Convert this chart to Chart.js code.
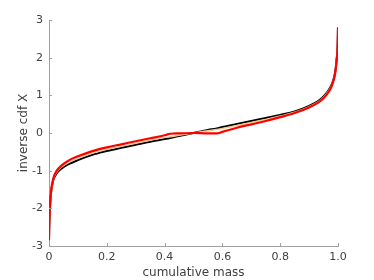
<!DOCTYPE html>
<html>
<head>
<meta charset="utf-8">
<script src="https://cdn.jsdelivr.net/npm/chart.js@4.4.1/dist/chart.umd.min.js"></script>
<style>
  html, body { margin: 0; padding: 0; background: #fff; }
  #wrap { width: 374px; height: 280px; position: relative; }
</style>
</head>
<body>
<div id="wrap"><canvas id="chartCdf"></canvas></div>
<script>
// Datos
const mass = [0, 0.001, 0.003, 0.007, 0.015, 0.027, 0.044, 0.07, 0.1, 0.15, 0.2, 0.25, 0.3, 0.35, 0.4, 0.42, 0.45, 0.5, 0.55, 0.58, 0.6, 0.65, 0.7, 0.75, 0.8, 0.85, 0.9, 0.93, 0.95, 0.97, 0.98, 0.99, 0.995, 0.999, 1];
const blackY = [-2.83, -2.4, -2.05, -1.6, -1.25, -1.07, -0.94, -0.82, -0.72, -0.58, -0.48, -0.39, -0.31, -0.23, -0.16, -0.13, -0.08, 0, 0.08, 0.12, 0.16, 0.24, 0.32, 0.4, 0.48, 0.57, 0.72, 0.84, 0.97, 1.17, 1.32, 1.6, 1.95, 2.4, 2.8];
const tanY = [-2.84, -2.4, -2.03, -1.58, -1.23, -1.04, -0.9, -0.77, -0.67, -0.53, -0.43, -0.35, -0.27, -0.19, -0.12, -0.1, -0.06, 0, 0.06, 0.09, 0.12, 0.2, 0.28, 0.36, 0.45, 0.55, 0.7, 0.82, 0.95, 1.15, 1.3, 1.59, 1.93, 2.38, 2.8];
const redY = [-2.85, -2.4, -2.0, -1.55, -1.2, -1.0, -0.86, -0.72, -0.62, -0.48, -0.38, -0.3, -0.22, -0.14, -0.06, -0.02, -0.01, 0, -0.01, -0.01, 0.03, 0.14, 0.23, 0.32, 0.42, 0.53, 0.68, 0.8, 0.92, 1.12, 1.28, 1.58, 1.9, 2.35, 2.8];
const xTicks = [0, 0.2, 0.4, 0.6, 0.8, 1];
const yTicks = [-3, -2, -1, 0, 1, 2, 3];

const pts = ys => mass.map((m, i) => ({ x: m, y: ys[i] }));
const axisColor = '#a0a0a0', textColor = '#404040';

// Marcas de eje hacia dentro (estilo MATLAB)
const inwardTicks = {
    id: 'inwardTicks',
    afterDraw(chart) {
        const { ctx, scales: { x, y } } = chart;
        ctx.save(); ctx.strokeStyle = axisColor; ctx.lineWidth = 1;
        x.ticks.forEach(t => { const px = Math.round(x.getPixelForValue(t.value)) + 0.5; ctx.beginPath(); ctx.moveTo(px, y.bottom); ctx.lineTo(px, y.bottom - 3); ctx.stroke(); });
        y.ticks.forEach(t => { const py = Math.round(y.getPixelForValue(t.value)) + 0.5; ctx.beginPath(); ctx.moveTo(x.left, py); ctx.lineTo(x.left + 3, py); ctx.stroke(); });
        ctx.restore();
    }
};

new Chart(document.getElementById('chartCdf'), {
    type: 'line',
    data: { datasets: [
        { data: pts(redY), borderColor: '#ff0000', borderWidth: 2.2 },
        { data: pts(tanY), borderColor: '#f3c98e', borderWidth: 1.5 },
        { data: pts(blackY), borderColor: '#000000', borderWidth: 2 }
    ] },
    options: {
        responsive: true, maintainAspectRatio: false, animation: false,
        elements: { point: { radius: 0 }, line: { cubicInterpolationMode: 'monotone', fill: false } },
        layout: { padding: { top: 20, right: 36, left: 17, bottom: 0 } },
        plugins: { legend: { display: false }, tooltip: { enabled: false } },
        scales: {
            x: {
                type: 'linear', min: 0, max: 1,
                afterBuildTicks: s => { s.ticks = xTicks.map(v => ({ value: v })); },
                afterFit: s => { s.height = 34; },
                grid: { display: false, drawTicks: false },
                border: { display: true, color: axisColor, width: 1 },
                ticks: { padding: 5, maxRotation: 0, color: textColor, font: { family: 'DejaVu Sans', size: 11 } },
                title: { display: true, text: 'cumulative mass', color: textColor, font: { family: 'DejaVu Sans', size: 12 }, padding: { top: 0, bottom: 0 } }
            },
            y: {
                type: 'linear', min: -3, max: 3,
                afterBuildTicks: s => { s.ticks = yTicks.map(v => ({ value: v })); },
                afterFit: s => { s.width = 32; },
                grid: { display: false, drawTicks: false },
                border: { display: true, color: axisColor, width: 1 },
                ticks: { padding: 6, color: textColor, font: { family: 'DejaVu Sans', size: 11 } },
                title: { display: true, text: 'inverse cdf X', color: textColor, font: { family: 'DejaVu Sans', size: 12 }, padding: { top: 0, bottom: 0 } }
            }
        }
    },
    plugins: [inwardTicks]
});
</script>
</body>
</html>
